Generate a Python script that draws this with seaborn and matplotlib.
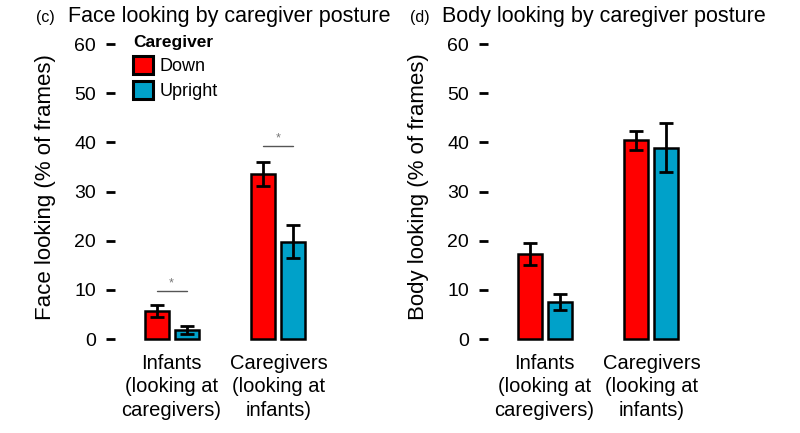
import numpy as np
import pandas as pd
import matplotlib
matplotlib.use("Agg")
import matplotlib.pyplot as plt
import seaborn as sns

# valores
grupos = ["Infants\n(looking at\ncaregivers)", "Caregivers\n(looking at\ninfants)"]
posturas = ["Down", "Upright"]
cores = ["#FF0000", "#00A1C9"]

face_media = {"Down": [5.65, 33.65], "Upright": [1.85, 19.8]}
face_erro = {"Down": [1.25, 2.45], "Upright": [0.85, 3.4]}
body_media = {"Down": [17.3, 40.4], "Upright": [7.55, 38.9]}
body_erro = {"Down": [2.3, 2.0], "Upright": [1.55, 5.0]}
sig_y = [9.8, 39.3]


def monta_df(media):
    linhas = []
    for p in posturas:
        for g, v in zip(grupos, media[p]):
            linhas.append({"grupo": g, "Caregiver": p, "valor": v})
    return pd.DataFrame(linhas)


sns.set_theme(style="white")
plt.rcParams['font.family'] = ['Liberation Sans', 'DejaVu Sans']
plt.rcParams['text.color'] = 'black'
plt.rcParams['axes.labelcolor'] = 'black'
plt.rcParams['xtick.color'] = 'black'
plt.rcParams['ytick.color'] = 'black'

fig = plt.figure(figsize=(8, 4.33), dpi=100)
ax1 = fig.add_axes([0.14375, 0.2055, 0.275, 0.7269])
ax2 = fig.add_axes([0.61, 0.2055, 0.275, 0.7269])


def plota_painel(ax, media, erro, ylabel, legenda=False):
    df = monta_df(media)
    sns.barplot(data=df, x="grupo", y="valor", hue="Caregiver", hue_order=posturas,
                order=grupos, palette=cores, width=0.56, gap=0.2, errorbar=None,
                edgecolor="black", linewidth=1.8, saturation=1, ax=ax, legend=legenda)
    # barras de erro a partir das barras desenhadas
    for cont, p in zip(ax.containers, posturas):
        xs = [b.get_x() + b.get_width() / 2 for b in cont]
        ys = [b.get_height() for b in cont]
        ax.errorbar(xs, ys, yerr=erro[p], fmt="none", ecolor="black",
                    elinewidth=2.0, capsize=5, capthick=2.0, zorder=5)
    ax.set_ylim(-1, 63)
    ax.set_xlim(-0.53, 1.53)
    ax.set_yticks([0, 10, 20, 30, 40, 50, 60])
    ax.set_xlabel("")
    ax.set_ylabel(ylabel, fontsize=16, labelpad=13)
    ax.tick_params(axis="y", length=6.5, width=2.0, pad=7, labelsize=14, left=True)
    ax.tick_params(axis="x", length=0, pad=7, labelsize=14.5)
    for lab in ax.get_xticklabels():
        lab.set_linespacing(1.3)
    for s in ax.spines.values():
        s.set_visible(False)


plota_painel(ax1, face_media, face_erro, "Face looking (% of frames)", legenda=True)
plota_painel(ax2, body_media, body_erro, "Body looking (% of frames)")

# linhas de significância no painel (c)
down_bars = ax1.containers[0]
up_bars = ax1.containers[1]
for bd, bu, y in zip(down_bars, up_bars, sig_y):
    x0 = bd.get_x() + bd.get_width() / 2
    x1 = bu.get_x() + bu.get_width() / 2
    ax1.plot([x0, x1], [y, y], color="#555555", lw=1.0)
    ax1.text((x0 + x1) / 2, y + 0.2, "*", ha="center", va="bottom", fontsize=9, color="#777777")

leg = ax1.legend(title="Caregiver", loc="upper left", bbox_to_anchor=(0.05, 1.005),
                 frameon=False, fontsize=13, title_fontsize=12.5, handlelength=1.1,
                 handleheight=1.1, handletextpad=0.35, labelspacing=0.35, borderaxespad=0)
leg.get_title().set_fontweight("bold")
leg._legend_box.align = "left"
for h in leg.legend_handles:
    h.set_edgecolor("black")
    h.set_linewidth(2.2)

# títulos
fig.text(36 / 800, 1 - 22 / 433, "(c)", fontsize=11.5, va="baseline", ha="left")
fig.text(68 / 800, 1 - 22 / 433, "Face looking by caregiver posture", fontsize=15.5,
         va="baseline", ha="left")
fig.text(410 / 800, 1 - 22 / 433, "(d)", fontsize=11.5, va="baseline", ha="left")
fig.text(442 / 800, 1 - 22 / 433, "Body looking by caregiver posture", fontsize=15.5,
         va="baseline", ha="left")

fig.savefig("out.png", dpi=100)
